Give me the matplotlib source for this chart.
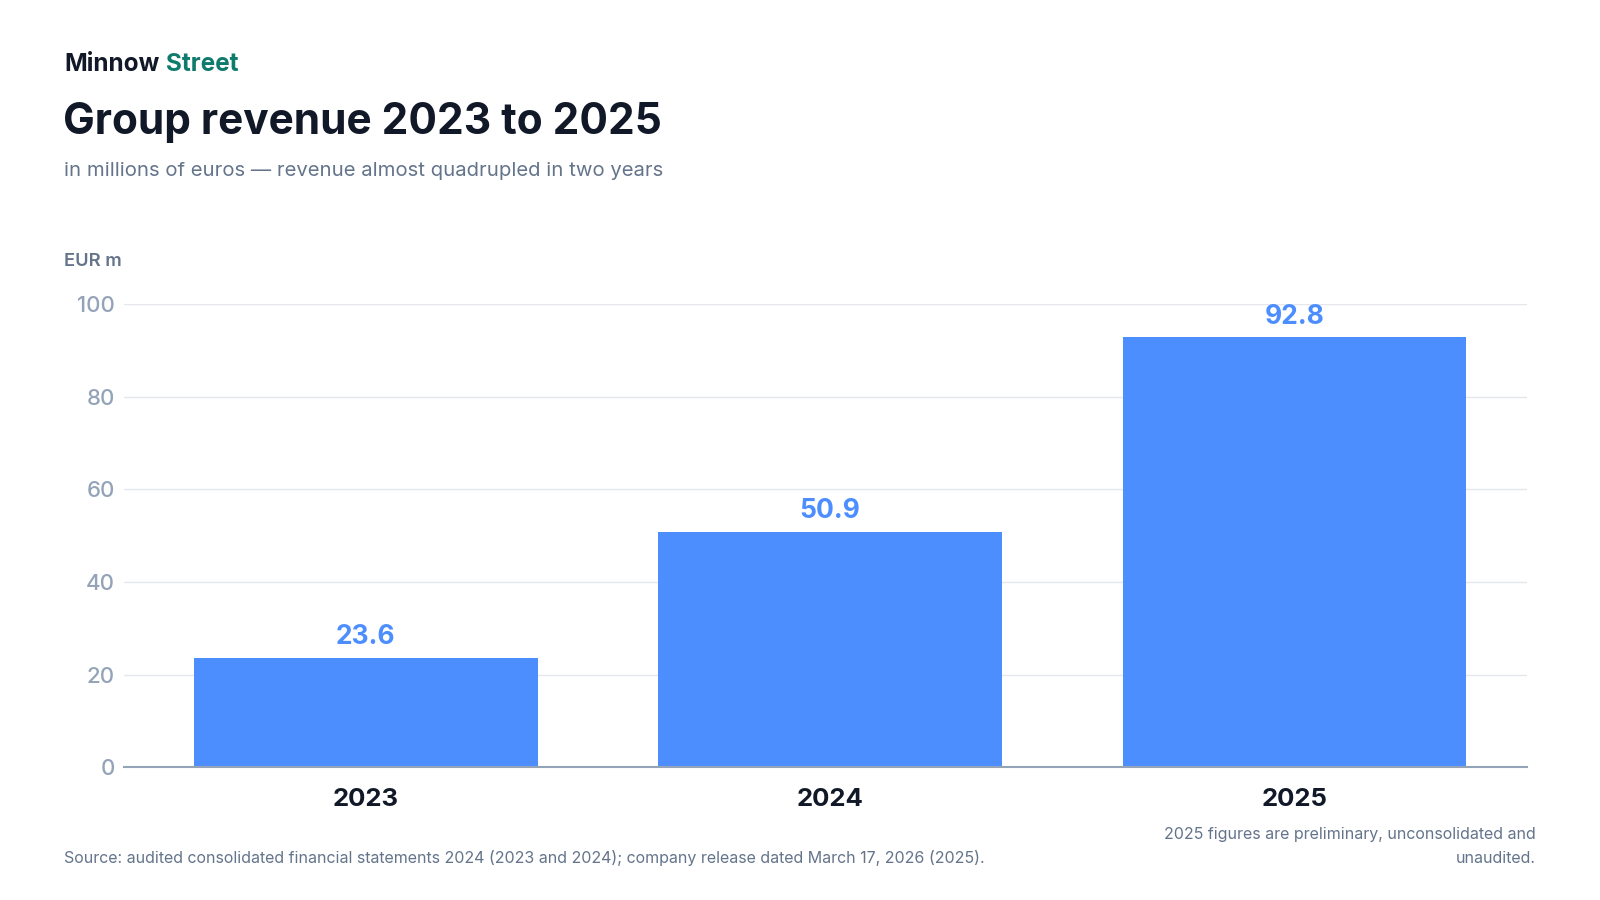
import matplotlib
matplotlib.use("Agg")
import matplotlib.pyplot as plt

plt.rcParams['font.family'] = ['Inter', 'DejaVu Sans']

# data
years = ['2023', '2024', '2025']
revenue = [23.6, 50.9, 92.8]
y_ticks = [0, 20, 40, 60, 80, 100]

brand_dark = 'Minnow'
brand_green = 'Street'
title = 'Group revenue 2023 to 2025'
subtitle = 'in millions of euros \u2014 revenue almost quadrupled in two years'
unit_label = 'EUR m'
source = ('Source: audited consolidated financial statements 2024 (2023 and 2024); '
          'company release dated March 17, 2026 (2025).')
note = '2025 figures are preliminary, unconsolidated and\nunaudited.'

DARK = '#111827'
GREEN = '#0f7b6c'
SLATE = '#64748b'
TICK = '#94a3b8'
BLUE = '#4d8eff'
GRID = '#e5e7eb'

W, H = 1600, 900
S = 1.0204  # measured positions -> pixel positions

fig = plt.figure(figsize=(16, 9), dpi=100)

def fx(px):
    return px * S / W

def fy(py):
    return 1 - py * S / H

ax = fig.add_axes([fx(122), fy(752), fx(1496) - fx(122), fy(298) - fy(752)])

x = list(range(len(years)))
ax.bar(x, revenue, width=0.74, color=BLUE, zorder=3)
for xi, v in zip(x, revenue):
    ax.annotate(f'{v:.1f}', (xi, v), xytext=(0, 10), textcoords='offset points',
                ha='center', va='baseline', fontsize=19, fontweight='bold',
                color=BLUE, annotation_clip=False)

ax.set_xlim(-0.52, 2.5)
ax.set_ylim(0, 100)
ax.set_yticks(y_ticks)
ax.set_yticklabels([str(t) for t in y_ticks])
ax.set_xticks(x)
ax.set_xticklabels(years)
ax.tick_params(axis='y', length=0, pad=7, labelsize=16, labelcolor=TICK)
ax.tick_params(axis='x', length=0, pad=15, labelsize=18.5, labelcolor=DARK)
for lab in ax.get_xticklabels():
    lab.set_fontweight('bold')
for lab in ax.get_yticklabels():
    lab.set_fontweight('medium')

ax.grid(axis='y', color=GRID, linewidth=1, zorder=0)
for s in ['top', 'right', 'left']:
    ax.spines[s].set_visible(False)
ax.spines['bottom'].set_color(TICK)
ax.spines['bottom'].set_linewidth(1.5)
ax.spines['bottom'].set_zorder(4)

# header
t1 = fig.text(fx(63), fy(70), brand_dark, fontsize=17.5, fontweight='bold',
              color=DARK, va='baseline')
fig.canvas.draw()
bb = t1.get_window_extent()
fig.text((bb.x1 + 6) / W, fy(70), brand_green, fontsize=17.5, fontweight='bold',
         color=GREEN, va='baseline')
fig.text(fx(62), fy(131), title, fontsize=30.5, fontweight='bold', color=DARK,
         va='baseline')
fig.text(fx(63), fy(172), subtitle, fontsize=14.6, color=SLATE, va='baseline')
fig.text(fx(63), fy(261), unit_label, fontsize=13.2, fontweight='semibold',
         color=SLATE, va='baseline')

# footer
fig.text(fx(63), fy(846), source, fontsize=11.5, color=SLATE, va='baseline')
fig.text(fx(1505), fy(846), note, fontsize=11.5, color=SLATE, ha='right',
         va='baseline', linespacing=1.8)

fig.savefig('out.png', dpi=100, facecolor='white')
